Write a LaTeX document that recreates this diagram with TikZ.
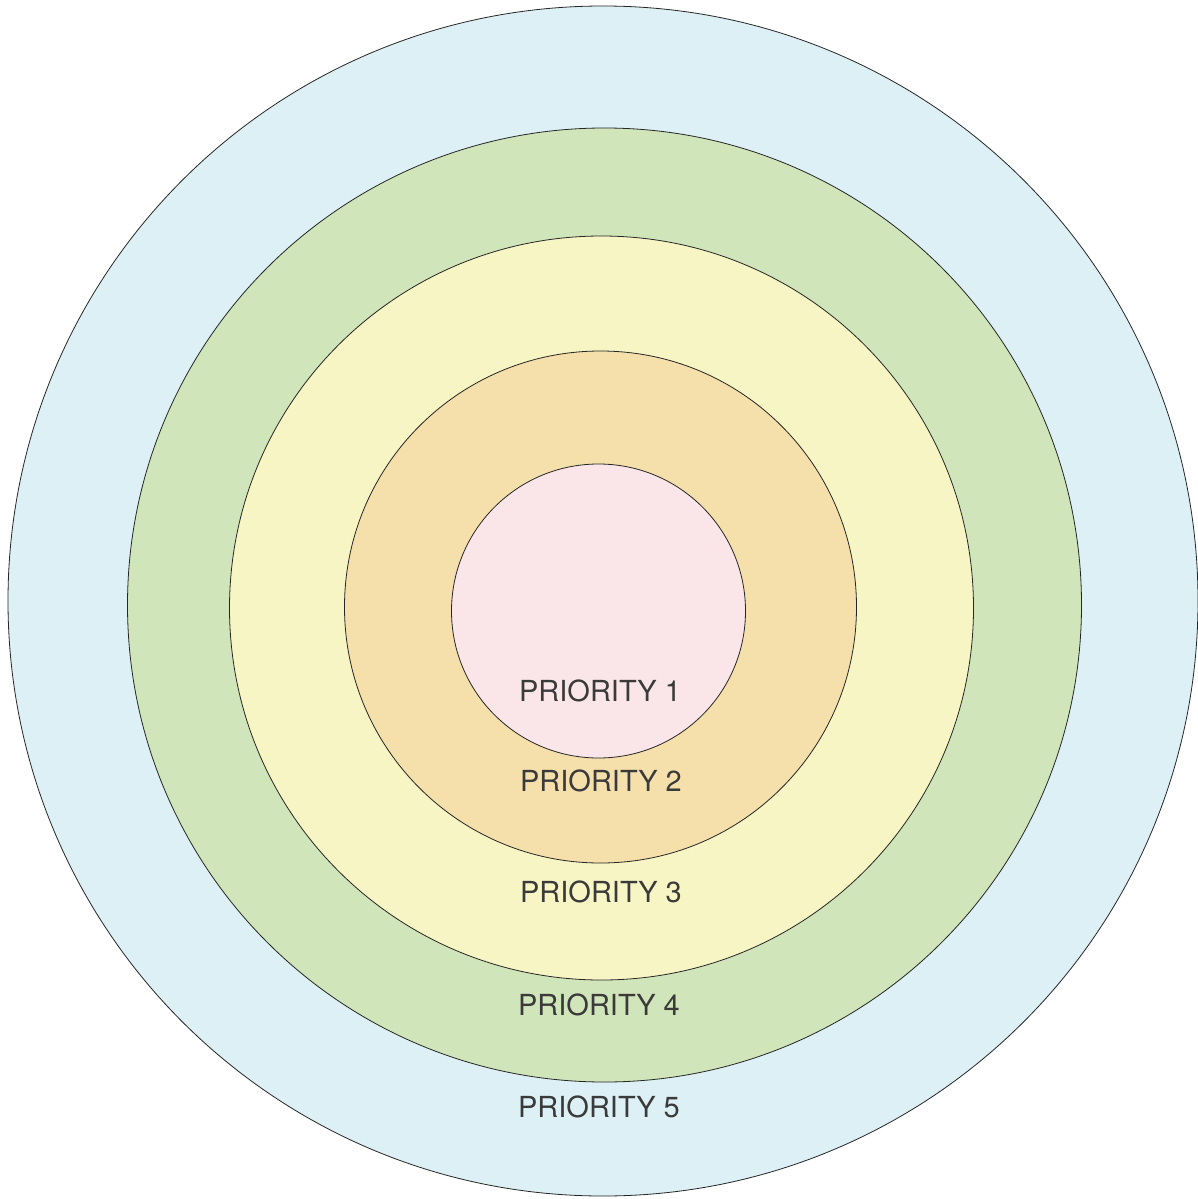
\documentclass[tikz,border=0pt]{standalone}
\usepackage{fontspec}
\setmainfont{TeX Gyre Heros}
\definecolor{ringblue}{HTML}{DCF0F6}
\definecolor{ringgreen}{HTML}{D1E5BA}
\definecolor{ringyellow}{HTML}{F7F5C3}
\definecolor{ringorange}{HTML}{F5E0AB}
\definecolor{ringpink}{HTML}{FAE5E8}
\definecolor{labelgray}{HTML}{3A3A3A}
\begin{document}
\begin{tikzpicture}[x=1pt,y=-1pt,
  ring/.style={draw=black!85,line width=0.8pt},
  prio/.style={text=labelgray,font=\fontsize{29}{34}\selectfont,inner sep=0pt}]

\useasboundingbox (0,0) rectangle (1198,1199);
\clip (0,0) rectangle (1198,1199);

\draw[ring,fill=ringblue] (603,601) circle (595);
\draw[ring,fill=ringgreen] (604.5,605) circle (477);
\draw[ring,fill=ringyellow] (601.5,608) circle (372);
\draw[ring,fill=ringorange] (600.5,607) circle (256);
\draw[ring,fill=ringpink] (598.5,611) circle (147);

\node[prio] (p1) at (600,691) {PRIORITY 1};
\node[prio] (p2) at (601,781) {PRIORITY 2};
\node[prio] (p3) at (601,892) {PRIORITY 3};
\node[prio] (p4) at (599,1005) {PRIORITY 4};
\node[prio] (p5) at (599,1107) {PRIORITY 5};
\end{tikzpicture}
\end{document}
